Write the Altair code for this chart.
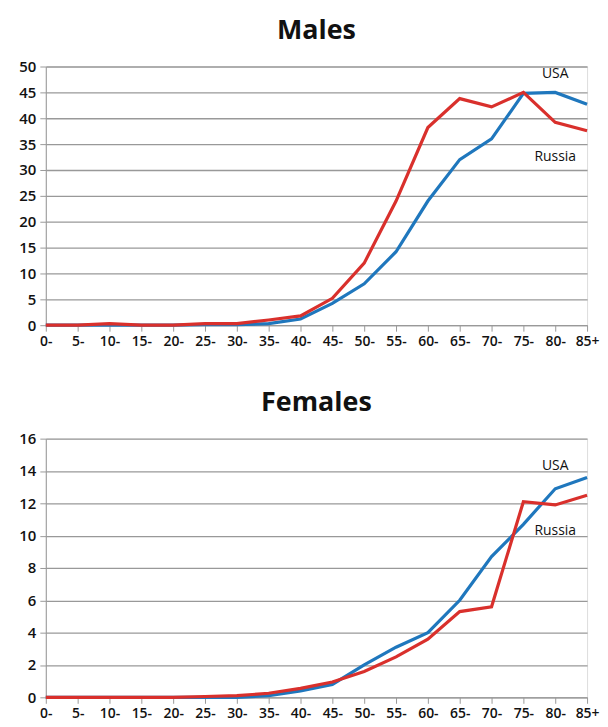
import altair as alt
import pandas as pd

ages = ["0-", "5-", "10-", "15-", "20-", "25-", "30-", "35-", "40-", "45-",
        "50-", "55-", "60-", "65-", "70-", "75-", "80-", "85+"]

males_usa = [0, 0, 0, 0, 0, 0.1, 0.1, 0.3, 1.2, 4.2, 8.0, 14.2, 24.0, 32.0, 36.0, 44.8, 45.0, 42.7]
males_russia = [0, 0, 0.3, 0, 0, 0.3, 0.3, 1.0, 1.8, 5.2, 12.0, 24.0, 38.2, 43.8, 42.2, 45.0, 39.2, 37.6]
females_usa = [0, 0, 0, 0, 0, 0, 0, 0.1, 0.4, 0.8, 2.0, 3.1, 4.0, 6.0, 8.7, 10.7, 12.9, 13.6]
females_russia = [0, 0, 0, 0, 0, 0.05, 0.1, 0.25, 0.55, 0.95, 1.6, 2.5, 3.6, 5.3, 5.6, 12.1, 11.9, 12.5]

series = ["USA", "Russia"]
colors = ["#1f77bd", "#d9302c"]

males_labels = pd.DataFrame({"age": ["80-", "80-"], "value": [48.5, 32.5], "text": ["USA", "Russia"]})
females_labels = pd.DataFrame({"age": ["80-", "80-"], "value": [14.3, 10.3], "text": ["USA", "Russia"]})

FONT = "Open Sans"


def make_df(usa, russia):
    rows = []
    for a, u, r in zip(ages, usa, russia):
        rows.append({"age": a, "value": u, "country": "USA"})
        rows.append({"age": a, "value": r, "country": "Russia"})
    return pd.DataFrame(rows)


def panel(title, usa, russia, ymax, ystep, labels):
    df = make_df(usa, russia)
    x = alt.X("age:N", sort=ages, scale=alt.Scale(type="point", padding=0),
              axis=alt.Axis(title=None, labelAngle=0, grid=False, ticks=True,
                            tickSize=6, labelFontSize=14, labelFont=FONT,
                            labelFontWeight=600,
                            labelColor="#111", domainColor="#999", tickColor="#999",
                            labelPadding=3, labelFlush=False, labelOverlap=False))
    y = alt.Y("value:Q", scale=alt.Scale(domain=[0, ymax], nice=False),
              axis=alt.Axis(title=None, values=list(range(0, ymax + 1, ystep)),
                            grid=True, gridColor="#999", gridWidth=1.3,
                            domainColor="#999", tickColor="#999", tickSize=6,
                            labelFontSize=15, labelFont=FONT, labelColor="#111",
                            labelFontWeight=600,
                            labelPadding=4, labelOverlap=False))
    lines = alt.Chart(df).mark_line(strokeWidth=3.2).encode(
        x=x, y=y,
        color=alt.Color("country:N", scale=alt.Scale(domain=series, range=colors), legend=None),
    )
    txt = alt.Chart(labels).mark_text(fontSize=14, font=FONT, color="#111").encode(
        x=x, y=y, text="text:N"
    )
    return (lines + txt).properties(
        width=544, height=260,
        title=alt.TitleParams(title, fontSize=27, font=FONT, fontWeight="bold",
                              anchor="middle", offset=15, color="#111"),
    )


top = panel("Males", males_usa, males_russia, 50, 5, males_labels)
bottom = panel("Females", females_usa, females_russia, 16, 2, females_labels)

chart = alt.vconcat(top, bottom, spacing=39).configure_view(stroke=None).configure(
    padding={"left": 10, "top": 6, "right": 0, "bottom": 0}
)

chart.save("out.html", embed_options={"renderer": "svg", "actions": False})
